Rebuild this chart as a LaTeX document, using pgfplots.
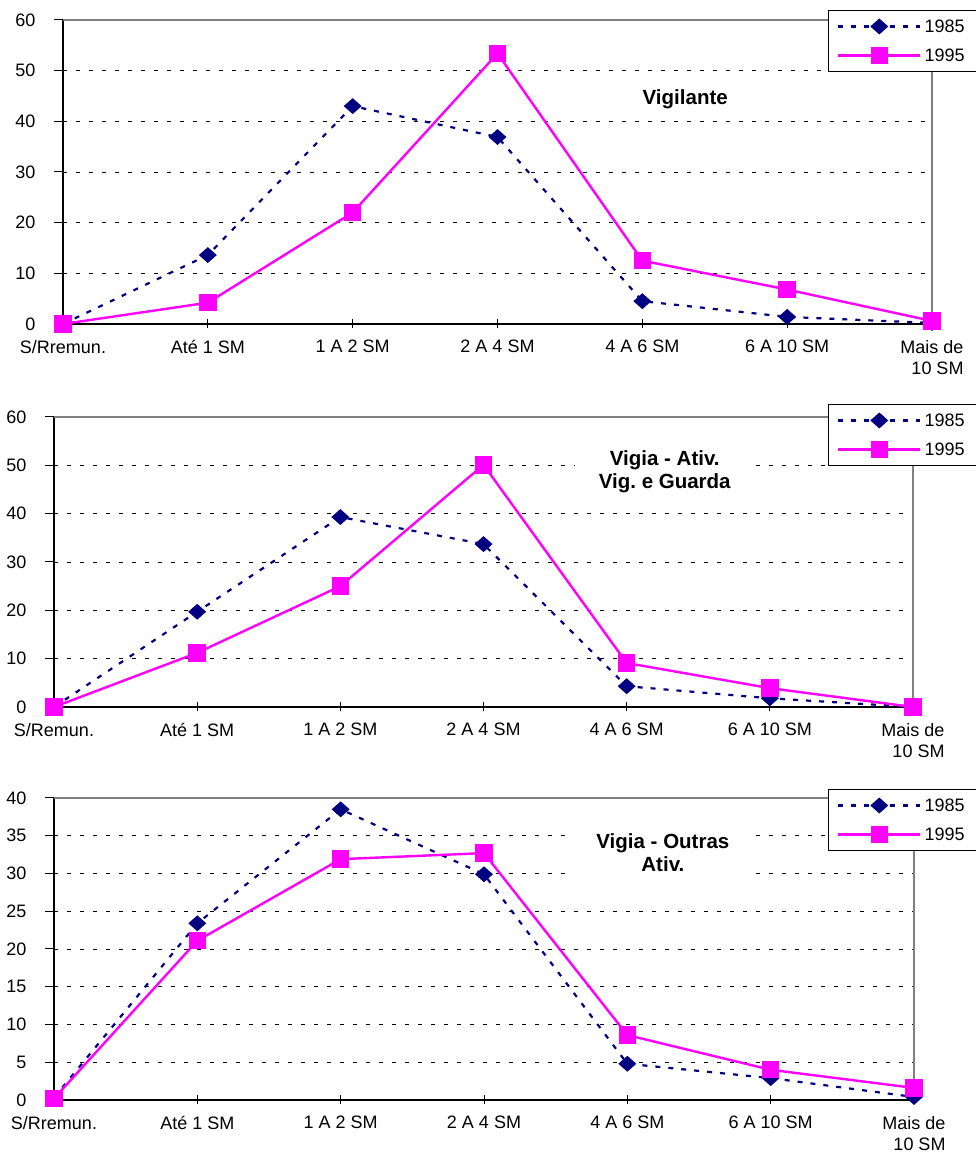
\documentclass[border=0pt]{standalone}
\usepackage{fontspec}
\setmainfont{Liberation Sans}
\usepackage{pgfplots}
\pgfplotsset{compat=1.18}
\definecolor{navyc}{HTML}{000080}
\definecolor{magc}{HTML}{FF00FF}
\tikzset{ttl/.style={fill=white, font=\fontsize{20.5}{23}\selectfont\bfseries, align=center, inner xsep=24pt, inner ysep=2pt}}
\pgfplotsset{
  panel/.style={
    scale only axis,
    axis lines=left,
    axis line style={-, black, line width=1.6pt},
    clip=false,
    font=\fontsize{18}{21}\selectfont,
    /pgf/number format/assume math mode=true,
    xmin=0, xmax=6, ymin=0,
    xtick={0,...,6},
    xtick align=center,
    ytick align=outside,
    major tick length=9pt,
    tick style={black, line width=1pt},
    xticklabel style={align=right, yshift=-8pt},
    yticklabel style={xshift=-15pt},
    ymajorgrids,
    grid style={black, line width=0.9pt, dash pattern=on 4pt off 9pt},
    legend style={at={(1,1)}, anchor=north east, draw=black, line width=0.9pt, fill=white,
      inner xsep=9pt, inner ysep=5pt, row sep=7pt, font=\fontsize{18}{21}\selectfont,
      nodes={inner xsep=3pt, inner ysep=4pt}},
    legend cell align=left,
    legend image code/.code={\draw[mark repeat=2, mark phase=2, ##1] plot coordinates {(0pt,0pt) (41pt,0pt) (82pt,0pt)};},
  },
  s85/.style={color=navyc, line width=2.2pt, dash pattern=on 5pt off 8pt, mark=diamond*, mark size=6.5pt,
    mark options={solid, xscale=1.5, fill=navyc}},
  s95/.style={color=magc, line width=2.4pt, mark=square*, mark size=7.5pt, mark options={solid, fill=magc}},
}
\begin{document}
\begin{tikzpicture}[x=1pt,y=1pt]
\path[use as bounding box] (0,0) rectangle (975,1155);
% ---------- Panel 1 ----------
\begin{axis}[panel, at={(63pt,831pt)}, anchor=south west, width=869pt, height=304pt,
  ymax=60, ytick={0,10,...,60},
  xticklabels={S/Rremun.,Até 1 SM,1 A 2 SM,2 A 4 SM,4 A 6 SM,6 A 10 SM,Mais de\\10 SM},
  legend style={xshift=45pt, yshift=10pt}]
\addplot[s85] coordinates {(0,0) (1,13.6) (2,43.0) (3,36.9) (4,4.5) (5,1.4) (6,0.2)};
\addlegendentry{1985}
\addplot[s95] coordinates {(0,0) (1,4.2) (2,22.0) (3,53.4) (4,12.5) (5,6.8) (6,0.6)};
\addlegendentry{1995}
\draw[gray, line width=1.6pt] (rel axis cs:0,1) -- (rel axis cs:1,1) -- (rel axis cs:1,0);
\node[ttl] at (rel axis cs:0.716,0.74) {Vigilante};
\end{axis}
% ---------- Panel 2 ----------
\begin{axis}[panel, at={(54pt,448pt)}, anchor=south west, width=859pt, height=290pt,
  ymax=60, ytick={0,10,...,60},
  xticklabels={S/Remun.,Até 1 SM,1 A 2 SM,2 A 4 SM,4 A 6 SM,6 A 10 SM,Mais de\\10 SM},
  legend style={xshift=64pt, yshift=13pt}]
\addplot[s85] coordinates {(0,0) (1,19.7) (2,39.3) (3,33.7) (4,4.3) (5,1.8) (6,0)};
\addlegendentry{1985}
\addplot[s95] coordinates {(0,0) (1,11.2) (2,25.0) (3,50.1) (4,9.1) (5,3.9) (6,0)};
\addlegendentry{1995}
\draw[gray, line width=1.6pt] (rel axis cs:0,1) -- (rel axis cs:1,1) -- (rel axis cs:1,0);
\node[ttl] at (rel axis cs:0.711,0.812) {Vigia - Ativ.\\Vig.\ e Guarda};
\end{axis}
% ---------- Panel 3 ----------
\begin{axis}[panel, at={(54pt,55pt)}, anchor=south west, width=860pt, height=302pt,
  ymax=40, ytick={0,5,...,40},
  xticklabels={S/Rremun.,Até 1 SM,1 A 2 SM,2 A 4 SM,4 A 6 SM,6 A 10 SM,Mais de\\10 SM},
  legend style={xshift=63pt, yshift=9pt}]
\addplot[s85] coordinates {(0,0.3) (1,23.4) (2,38.5) (3,29.9) (4,4.8) (5,2.9) (6,0.4)};
\addlegendentry{1985}
\addplot[s95] coordinates {(0,0.2) (1,21.1) (2,31.9) (3,32.7) (4,8.6) (5,4.0) (6,1.6)};
\addlegendentry{1995}
\draw[gray, line width=1.6pt] (rel axis cs:0,1) -- (rel axis cs:1,1) -- (rel axis cs:1,0);
\node[ttl] at (rel axis cs:0.708,0.818) {Vigia - Outras\\Ativ.};
\end{axis}
\end{tikzpicture}
\end{document}
